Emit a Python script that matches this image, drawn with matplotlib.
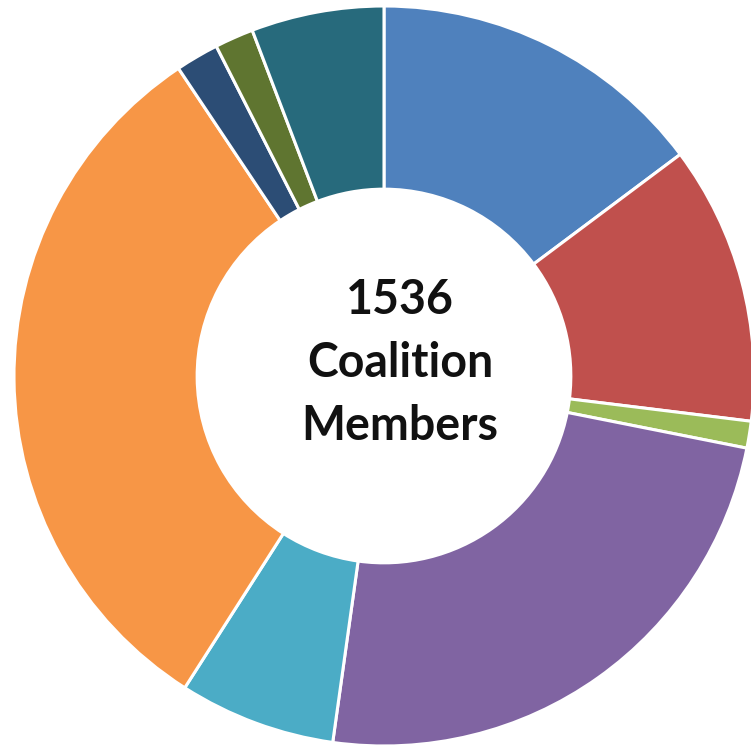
import matplotlib.pyplot as plt

# member counts per group, clockwise from 12 o'clock
groups = ["A", "B", "C", "D", "E", "F", "G", "H", "I"]
members = [227, 187, 18, 370, 105, 485, 29, 26, 89]
colors = ["#4F81BD", "#C0504D", "#9BBB59", "#8064A2", "#4BACC6",
          "#F79646", "#2C4D75", "#5F7530", "#276A7C"]
center_label = "1536\nCoalition\nMembers"

fig = plt.figure(figsize=(7.51, 7.51), dpi=100)
ax = fig.add_axes([0, 0, 1, 1])
ax.pie(members, colors=colors, startangle=90, counterclock=False,
       radius=1.0, wedgeprops=dict(width=0.495, edgecolor="white", linewidth=2.2))
# place the donut like the reference (slightly cut on the right)
ax.set_xlim(-384 / 370, (751 - 384) / 370)
ax.set_ylim(-(751 - 376) / 370, 376 / 370)
ax.set_aspect("equal")
ax.axis("off")

ax.text(0.043, 0.035, center_label, ha="center", va="center",
        fontsize=33.5, fontweight="bold", family="Lato", linespacing=1.53,
        color="#111111")

fig.savefig("out.png", dpi=100)
